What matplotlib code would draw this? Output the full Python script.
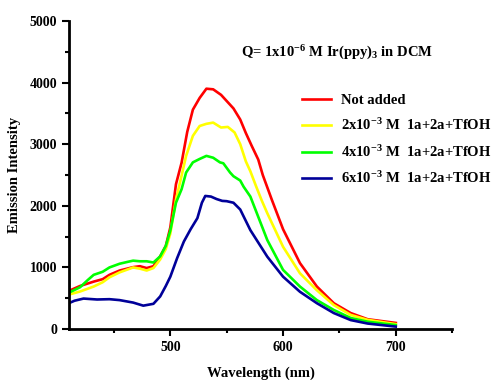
import matplotlib
matplotlib.use("Agg")
import matplotlib.pyplot as plt
from matplotlib.ticker import MultipleLocator

plt.rcParams['font.family'] = ['Liberation Serif', 'DejaVu Serif']
plt.rcParams['font.weight'] = 'bold'
plt.rcParams['mathtext.fontset'] = 'custom'
plt.rcParams['mathtext.rm'] = 'Liberation Serif:bold'
plt.rcParams['mathtext.bf'] = 'Liberation Serif:bold'
plt.rcParams['mathtext.it'] = 'Liberation Serif:bold:italic'
plt.rcParams['mathtext.default'] = 'rm'

labels = ["Not added",
          r"2x10$^{-3}$ M  1a+2a+TfOH",
          r"4x10$^{-3}$ M  1a+2a+TfOH",
          r"6x10$^{-3}$ M  1a+2a+TfOH"]
colors = ["#ff0000", "#ffff00", "#00ff00", "#000099"]

red_x = [410, 420, 432, 440, 446, 455, 467, 473, 479, 485, 491, 496, 500, 505, 510, 515, 520, 526, 532, 538,
         545, 550, 556, 562, 567, 572, 578, 582, 590, 600, 615, 630, 645, 660, 675, 700]
red_y = [620, 700, 770, 810, 880, 950, 1005, 1020, 990, 1020, 1180, 1350, 1650, 2350, 2700, 3200, 3560, 3750, 3900, 3890,
         3800, 3700, 3580, 3400, 3180, 2980, 2750, 2500, 2100, 1620, 1070, 690, 420, 260, 160, 100]

yel_x = [410, 420, 432, 440, 446, 455, 467, 473, 479, 485, 491, 496, 500, 505, 510, 514, 520, 526, 532, 538,
         545, 551, 557, 562, 567, 571, 576, 581, 586, 600, 615, 630, 645, 660, 675, 700]
yel_y = [560, 610, 690, 760, 840, 920, 1000, 980, 950, 990, 1130, 1300, 1550, 2100, 2490, 2810, 3135, 3295, 3330, 3350,
         3270, 3280, 3190, 3000, 2720, 2560, 2320, 2090, 1880, 1335, 905, 630, 390, 230, 150, 80]

grn_x = [410, 420, 427, 432, 440, 446, 455, 462, 467, 473, 479, 485, 491, 496, 500, 505, 510, 514, 520, 526, 532,
         538, 544, 547, 553, 556, 562, 565, 571, 586, 600, 615, 630, 645, 660, 675, 700]
grn_y = [590, 680, 800, 880, 930, 1000, 1060, 1090, 1110, 1100, 1100, 1080, 1180, 1350, 1600, 2050, 2270, 2540, 2705, 2760, 2810,
         2780, 2705, 2690, 2540, 2480, 2410, 2310, 2150, 1445, 960, 690, 470, 310, 180, 120, 65]

blu_x = [410, 415, 423, 435, 446, 455, 467, 476, 485, 491, 496, 500, 506, 512, 518, 524, 528, 531, 536, 541,
         546, 550, 556, 562, 571, 586, 600, 615, 630, 645, 660, 675, 700]
blu_y = [420, 460, 495, 480, 485, 470, 430, 380, 410, 530, 700, 850, 1150, 1420, 1620, 1800, 2050, 2160, 2150, 2110,
         2080, 2075, 2050, 1940, 1605, 1175, 850, 605, 420, 260, 146, 90, 40]

series = [(red_x, red_y), (yel_x, yel_y), (grn_x, grn_y), (blu_x, blu_y)]

fig = plt.figure(figsize=(4.92, 3.8), dpi=100)
ax = fig.add_axes([0.140, 0.134, 0.779, 0.811])

for (xs, ys), c, lab in zip(series, colors, labels):
    ax.plot(xs, ys, color=c, lw=1.9, label=lab)

ax.set_xlim(410, 750)
ax.set_ylim(0, 5000)
ax.xaxis.set_major_locator(MultipleLocator(100))
ax.xaxis.set_minor_locator(MultipleLocator(50))
ax.yaxis.set_major_locator(MultipleLocator(1000))
ax.yaxis.set_minor_locator(MultipleLocator(500))
for s in ['top', 'right']:
    ax.spines[s].set_visible(False)
for s in ['left', 'bottom']:
    ax.spines[s].set_linewidth(2.0)
ax.tick_params(which='major', length=5, width=1.5, labelsize=10)
ax.tick_params(which='minor', length=3, width=1.5)
for t in ax.get_xticklabels() + ax.get_yticklabels():
    t.set_fontweight('bold')

ax.set_xlabel("Wavelength (nm)", fontsize=10.5, fontweight='bold', labelpad=9)
ax.set_ylabel("Emission Intensity", fontsize=10.5, fontweight='bold', labelpad=6)

ax.text(0.70, 0.895, r"Q= 1x10$^{-6}$ M Ir(ppy)$_{3}$ in DCM", transform=ax.transAxes,
        ha='center', va='center', fontsize=10.5, fontweight='bold')

ax.legend(loc='upper left', bbox_to_anchor=(0.608, 0.764), frameon=False,
          prop={'weight': 'bold', 'size': 10.5}, handlelength=2.0, handletextpad=0.65,
          labelspacing=0.72, borderaxespad=0, borderpad=0)

fig.savefig("out.png", dpi=100)
